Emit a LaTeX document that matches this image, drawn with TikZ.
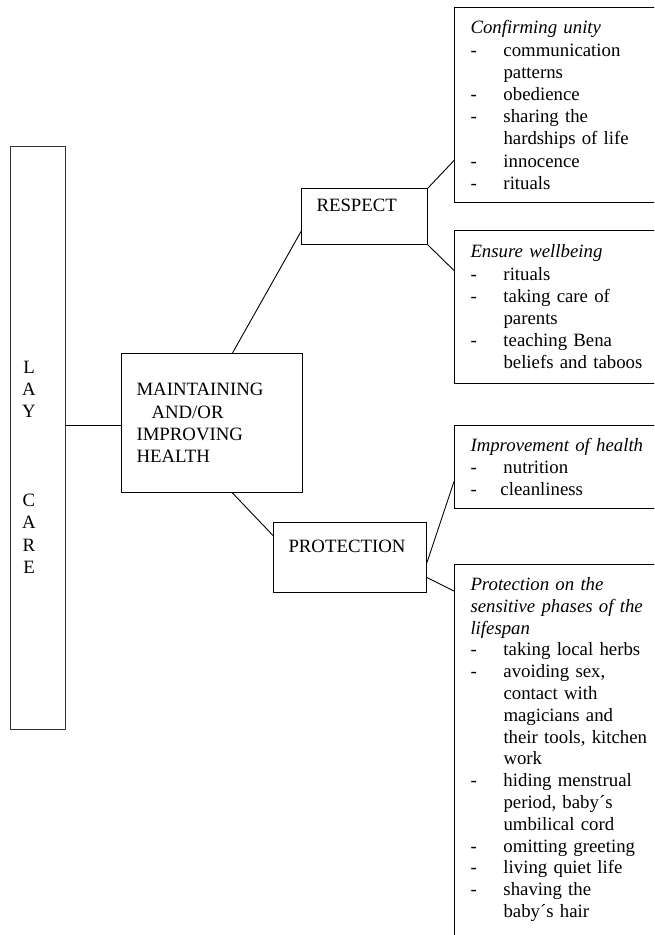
\documentclass[tikz,border=0pt]{standalone}
\usepackage{fontspec}
\setmainfont{Liberation Serif}
\usetikzlibrary{calc}
\newcommand{\bodysize}{\fontsize{18.8}{22.2}\selectfont}
\newcommand{\itemdash}{\makebox[33pt][l]{-}}
\newcommand{\itemcont}{\hspace*{33pt}}
\tikzset{
  plainbox/.style={draw,line width=1pt,anchor=north west,align=left,
    inner ysep=10pt,font=\bodysize},
  headbox/.style={plainbox,inner xsep=15pt},
  listbox/.style={plainbox,inner xsep=16pt,text width=200pt},
  link/.style={line width=0.9pt},
}
\begin{document}
\begin{tikzpicture}[x=1pt,y=-1pt]
  \useasboundingbox (0,0) rectangle (654,935);
  \clip (0,0) rectangle (654,935);
  % lay care column
  \node[draw=black!80,line width=1.4pt,minimum width=55pt,minimum height=583pt,
    anchor=north west,inner sep=0pt] (lay) at (10,146) {};
  \node[font=\bodysize,align=center,inner sep=0pt] (laytext) at (29,467)
    {L\\A\\Y\\[67pt]C\\A\\R\\E};
  % middle boxes
  \node[headbox,text width=151pt,minimum height=139pt] (main) at (121,353)
    {MAINTAINING\\\hspace*{15pt}AND/OR\\IMPROVING\\HEALTH};
  \node[headbox,text width=96pt,minimum height=56pt] (respect) at (301,188)
    {RESPECT\\\mbox{}};
  \node[headbox,text width=123pt,minimum height=70pt] (protect) at (273,522)
    {PROTECTION\\\mbox{}};
  % right column
  \node[listbox,minimum height=195pt] (unity) at (454,7)
    {\textit{Confirming unity}\\
     \itemdash communication\\
     \itemcont patterns\\
     \itemdash obedience\\
     \itemdash sharing the\\
     \itemcont hardships of life\\
     \itemdash innocence\\
     \itemdash rituals};
  \node[listbox,minimum height=153pt] (wellbeing) at (454,230)
    {\textit{Ensure wellbeing}\\
     \itemdash rituals\\
     \itemdash taking care of\\
     \itemcont parents\\
     \itemdash teaching Bena\\
     \itemcont beliefs and taboos};
  \node[listbox,minimum height=83pt] (health) at (454,425)
    {\textit{Improvement of health}\\
     \itemdash nutrition\\
     \makebox[30pt][l]{-}cleanliness};
  \node[listbox,inner ysep=13pt,font=\fontsize{18.8}{21.8}\selectfont] (phases) at (454,564)
    {\textit{Protection on the}\\
     \textit{sensitive phases of the}\\
     \textit{lifespan}\\
     \itemdash taking local herbs\\
     \itemdash avoiding sex,\\
     \itemcont contact with\\
     \itemcont magicians and\\
     \itemcont their tools, kitchen\\
     \itemcont work\\
     \itemdash hiding menstrual\\
     \itemcont period, baby´s\\
     \itemcont umbilical cord\\
     \itemdash omitting greeting\\
     \itemdash living quiet life\\
     \itemdash shaving the\\
     \itemcont baby´s hair\rule[-40pt]{0pt}{0pt}};
  % connectors
  \draw[link] ([yshift=-2.5pt]main.west -| lay.east) -- ([yshift=-2.5pt]main.west);
  \draw[link] ([xshift=20.5pt]main.north) -- ([yshift=-15pt]respect.west);
  \draw[link] ([xshift=20.5pt]main.south) -- ([yshift=22pt]protect.west);
  \draw[link] (respect.north east) -- ([yshift=-55.5pt]unity.west);
  \draw[link] (respect.south east) -- ([yshift=36.5pt]wellbeing.west);
  \draw[link] ([yshift=-5pt]protect.east) -- ([yshift=-14.5pt]health.west);
  \draw[link] ([yshift=-20pt]protect.east) -- ([yshift=-27pt]phases.north west);
\end{tikzpicture}
\end{document}
